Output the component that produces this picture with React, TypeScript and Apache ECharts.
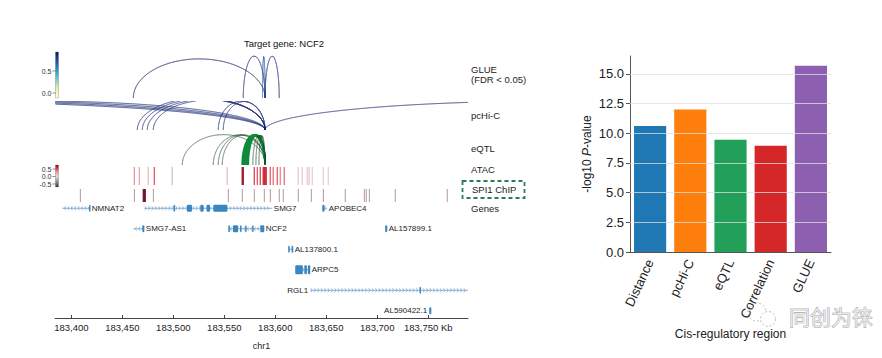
import React, { useEffect, useRef } from 'react';
import * as echarts from 'echarts';

// ---------------- Bar chart data ----------------
const categories = ['Distance', 'pcHi-C', 'eQTL', 'Correlation', 'GLUE'];
const pValues = [10.6, 12.0, 9.45, 8.95, 15.67];
const barColors = ['#1f77b4', '#ff7f0e', '#22a05a', '#d62728', '#8c5fb0'];
const yTickValues = [0, 2.5, 5, 7.5, 10, 12.5, 15];
const yGridValues = [2.5, 5, 7.5, 10, 12.5, 15];

// ---------------- Genome track data (Kb on chr1) ----------------
const X_MIN = 183384;
const X_MAX = 183789;
const kbTicks = [183400, 183450, 183500, 183550, 183600, 183650, 183700, 183750];

// [start, end, height, score]
const glueLinks = [
  [183460.8, 183590, 0.85, 0.9],
  [183568.6, 183590, 0.91, 0.86],
  [183587.5, 183590, 0.9, 0.68],
  [183590, 183603.9, 0.91, 0.88],
];
// [start, end, height]
const pchicLinks = [
  [182840, 183590, 1.0],
  [182938, 183590, 1.0],
  [183036, 183590, 1.0],
  [183134, 183590, 1.0],
  [183464.7, 183590, 1.1],
  [183469.6, 183590, 1.08],
  [183474.5, 183590, 1.05],
  [183480.4, 183590, 1.03],
  [183544.1, 183590, 1.0],
  [183549.0, 183590, 0.98],
  [183590, 184163.7, 1.0],
];
// [start, end, height, thick(1)/thin(0)]
const eqtlLinks = [
  [183508.8, 183590, 0.98, 0],
  [183539.2, 183590, 0.97, 0],
  [183544.1, 183590, 0.97, 0],
  [183548.0, 183590, 0.97, 0],
  [183567.6, 183590, 0.96, 1],
  [183568.5, 183590, 0.97, 1],
  [183569.5, 183590, 0.96, 1],
  [183570.5, 183590, 0.97, 1],
  [183571.5, 183590, 0.96, 1],
  [183572.5, 183590, 0.95, 1],
  [183573.5, 183590, 0.96, 1],
  [183578.0, 183590, 0.95, 0],
  [183581.0, 183590, 0.95, 0],
  [183584.0, 183590, 0.94, 0],
];
// [position, value]
const atacPeaks = [
  [183461.8, 0.3], [183466.7, 0.22], [183475.5, 0.14], [183481.4, 0.45], [183499.0, -0.1],
  [183552.9, 0.12], [183567.6, 0.75], [183568.6, 0.75], [183579.4, 0.5], [183582.4, 0.45],
  [183585.3, 0.5], [183588.2, 0.6], [183589.2, 0.66], [183590.2, 0.62], [183591.2, 0.55],
  [183595.1, 0.45], [183598.0, 0.4], [183602.0, 0.45], [183604.9, 0.35], [183608.8, 0.4],
  [183622.5, 0.07], [183626.5, 0.07], [183631.4, 0.09], [183633.3, 0.09], [183636.3, 0.07],
  [183647.1, 0.05], [183652.0, 0.05],
];
// [position, value]
const spi1Peaks = [
  [183408.8, 0.3], [183461.8, 0.3], [183470.6, 1.0], [183471.6, 1.0], [183472.5, 1.0],
  [183480.4, 0.3], [183553.9, 0.3], [183567.6, 0.35], [183579.4, 0.3], [183589.2, 0.35],
  [183595.1, 0.3], [183603.9, 0.3], [183607.8, 0.3], [183622.5, 0.25], [183635.3, 0.25],
  [183647.1, 0.25], [183668.6, 0.25], [183687.3, 0.25], [183689.2, 0.25], [183692.2, 0.25],
  [183717.6, 0.25], [183768.6, 0.25],
];

const geneNames = ['NMNAT2', 'SMG7', 'APOBEC4', 'SMG7-AS1', 'NCF2', 'AL157899.1', 'AL137800.1', 'ARPC5', 'RGL1', 'AL590422.1'];
const geneStarts = [183391.2, 183471.6, 183646.1, 183460.8, 183553.9, 183707.8, 183612.7, 183619.6, 183634.3, 183751.0];
const geneEnds = [183418.6, 183597.1, 183651.0, 183471.6, 183589.2, 183709.8, 183617.6, 183634.3, 183830.0, 183753.0];
const geneRows = [0, 0, 0, 1, 1, 1, 2, 3, 4, 5];
const geneStrands = [-1, 1, -1, -1, -1, 1, 1, 1, 1, 1];
const geneLabelLeft = [0, 0, 0, 0, 0, 0, 0, 0, 1, 1];
const geneExons = [
  [[183417.4, 183418.6]],
  [[183500.3, 183501.3], [183513.4, 183518.3], [183526.5, 183529.7], [183532.7, 183536.0], [183539.3, 183553.0]],
  [[183646.1, 183648.3]],
  [[183469.6, 183471.6]],
  [[183554.0, 183555.5], [183558.5, 183563.5], [183565.5, 183566.5], [183570.5, 183571.5], [183577.4, 183578.4], [183585.3, 183589.2]],
  [[183707.8, 183709.8]],
  [[183612.7, 183614.0], [183616.0, 183617.6]],
  [[183619.6, 183627.0], [183628.5, 183631.0], [183632.0, 183634.3]],
  [[183741.5, 183742.8]],
  [[183751.0, 183753.0]],
];

const glueCmap: [number, string][] = [
  [-0.1, '#ffffd9'], [0.05, '#edf8b1'], [0.18, '#c7e9b4'], [0.3, '#7fcdbb'], [0.42, '#41b6c4'],
  [0.55, '#1d91c0'], [0.68, '#225ea8'], [0.8, '#253494'], [0.93, '#081d58'],
];
const atacCmap: [number, string][] = [
  [-0.7, '#3a3a3a'], [-0.3, '#9a9a9a'], [0, '#e4dcdc'], [0.15, '#ebb9be'], [0.35, '#e5868d'],
  [0.55, '#e0303a'], [0.77, '#8e0c1e'],
];

const FONT = 'Liberation Sans, Arial, Helvetica, sans-serif';

function hexToRgb(h: string) {
  const n = parseInt(h.slice(1), 16);
  return [(n >> 16) & 255, (n >> 8) & 255, n & 255];
}
function cmap(stops: [number, string][], v: number) {
  if (v <= stops[0][0]) return stops[0][1];
  for (let i = 1; i < stops.length; i++) {
    if (v <= stops[i][0]) {
      const t = (v - stops[i - 1][0]) / (stops[i][0] - stops[i - 1][0]);
      const a = hexToRgb(stops[i - 1][1]);
      const b = hexToRgb(stops[i][1]);
      const c = a.map((x, k) => Math.round(x + (b[k] - x) * t));
      return `rgb(${c[0]},${c[1]},${c[2]})`;
    }
  }
  return stops[stops.length - 1][1];
}
function gradientStops(stops: [number, string][]) {
  const top = stops[stops.length - 1][0];
  const bot = stops[0][0];
  return stops
    .map(([v, c]) => ({ offset: (top - v) / (top - bot), color: c }))
    .sort((a, b) => a.offset - b.offset);
}

function arcRenderer(styleFn: (idx: number) => { stroke: string; lineWidth: number }) {
  return (params: any, api: any) => {
    const s = api.value(0);
    const e = api.value(1);
    const h = api.value(2);
    const c = (s + e) / 2;
    const a = Math.abs(e - s) / 2;
    const N = 1500;
    const runs: number[][][] = [];
    let cur: number[][] = [];
    for (let i = 0; i <= N; i++) {
      const t = (Math.PI * i) / N;
      const x = c + a * Math.cos(t);
      const y = h * Math.sin(t);
      if (x >= X_MIN && x <= X_MAX && y <= 1) {
        cur.push(api.coord([x, y]));
      } else {
        if (cur.length > 1) runs.push(cur);
        cur = [];
      }
    }
    if (cur.length > 1) runs.push(cur);
    const st = styleFn(params.dataIndex);
    return {
      type: 'group',
      children: runs.map((pts) => ({
        type: 'polyline',
        shape: { points: pts },
        style: { stroke: st.stroke, lineWidth: st.lineWidth, fill: 'none' },
      })),
    };
  };
}

function peakRenderer(colorFn: (v: number) => string, widthFn: (v: number) => number) {
  return (params: any, api: any) => {
    const x = api.value(0);
    const v = api.value(1);
    const pTop = api.coord([x, 1]);
    const pBot = api.coord([x, 0]);
    const w = widthFn(v);
    return {
      type: 'rect',
      shape: { x: pTop[0] - w / 2, y: pTop[1], width: w, height: pBot[1] - pTop[1] },
      style: { fill: colorFn(v) },
    };
  };
}

function geneRenderer(params: any, api: any) {
  const idx = params.dataIndex;
  const s = api.value(0);
  const e = api.value(1);
  const row = api.value(2);
  const strand = api.value(3);
  const p0 = api.coord([Math.max(s, X_MIN), row]);
  const p1 = api.coord([Math.min(e, X_MAX), row]);
  const y = p0[1];
  const children: any[] = [];
  const lineColor = '#6a9ec8';
  children.push({
    type: 'line',
    shape: { x1: p0[0], y1: y, x2: p1[0], y2: y },
    style: { stroke: lineColor, lineWidth: 0.8 },
  });
  for (let x = p0[0] + 2; x <= p1[0] - 1; x += 3.4) {
    const d = strand > 0 ? -1.4 : 1.4;
    children.push({
      type: 'polyline',
      shape: { points: [[x + d, y - 2], [x, y], [x + d, y + 2]] },
      style: { stroke: lineColor, lineWidth: 0.7, fill: 'none' },
    });
  }
  const thick = geneNames[idx] === 'ARPC5' ? 9 : 7;
  (geneExons[idx] || []).forEach((ex: number[]) => {
    const a = api.coord([Math.max(ex[0], X_MIN), row]);
    const b = api.coord([Math.min(ex[1], X_MAX), row]);
    const w = Math.max(b[0] - a[0], 1.4);
    children.push({
      type: 'rect',
      shape: { x: a[0], y: y - thick / 2, width: w, height: thick, r: 1 },
      style: { fill: '#3a86c0' },
    });
  });
  const left = geneLabelLeft[idx] === 1;
  children.push({
    type: 'text',
    x: left ? p0[0] - 2 : p1[0] + 1.5,
    y: y,
    style: {
      text: geneNames[idx],
      fontSize: 8,
      fontFamily: FONT,
      fill: '#222',
      align: left ? 'right' : 'left',
      verticalAlign: 'middle',
    },
  });
  return { type: 'group', children };
}

const genomeGrids = [
  { top: 52, height: 46 },
  { top: 101, height: 29 },
  { top: 134, height: 31 },
  { top: 167, height: 18 },
  { top: 189, height: 13 },
  { top: 198, height: 120 },
];

function buildOption() {
  const grid: any[] = [{ left: 630, top: 56, width: 201, height: 196 }];
  genomeGrids.forEach((g) => grid.push({ left: 55, width: 413, top: g.top, height: g.height }));

  const xAxis: any[] = [
    {
      type: 'category',
      gridIndex: 0,
      data: categories,
      axisLine: { lineStyle: { color: '#555', width: 1 } },
      axisTick: { show: false },
      axisLabel: { rotate: 65, fontSize: 13, color: '#222', fontFamily: FONT, margin: 8 },
      name: 'Cis-regulatory region',
      nameLocation: 'middle',
      nameGap: 65,
      nameTextStyle: { fontSize: 12, color: '#222', fontFamily: FONT },
    },
  ];
  const yAxis: any[] = [
    {
      type: 'value',
      gridIndex: 0,
      min: 0,
      max: 16.5,
      axisLine: { show: true, lineStyle: { color: '#555', width: 1 } },
      axisTick: { show: true, length: 4, customValues: yTickValues, lineStyle: { color: '#555' } },
      axisLabel: {
        customValues: yTickValues,
        formatter: (v: number) => v.toFixed(1),
        fontSize: 13,
        color: '#222',
        fontFamily: FONT,
        margin: 6,
      },
      splitLine: { show: false },
      name: '{n|-log10 }{i|P}{n|-value}',
      nameLocation: 'middle',
      nameGap: 37,
      nameRotate: 90,
      nameTextStyle: {
        rich: {
          n: { fontSize: 12, color: '#222', fontFamily: FONT },
          i: { fontSize: 12, color: '#222', fontFamily: FONT, fontStyle: 'italic' },
        },
      },
    },
  ];
  for (let i = 1; i <= 6; i++) {
    const isGenes = i === 6;
    xAxis.push(
      isGenes
        ? {
            type: 'value',
            gridIndex: i,
            min: X_MIN,
            max: X_MAX,
            position: 'bottom',
            axisLine: { show: true, onZero: false, lineStyle: { color: '#444', width: 1 } },
            axisTick: { show: true, inside: true, length: 3, customValues: kbTicks, lineStyle: { color: '#444' } },
            axisLabel: {
              show: true,
              customValues: kbTicks,
              formatter: (v: number) => v.toLocaleString('en-US') + (v === 183750 ? ' Kb' : ''),
              fontSize: 9.5,
              color: '#222',
              fontFamily: FONT,
              margin: 4,
            },
            splitLine: { show: false },
            name: 'chr1',
            nameLocation: 'middle',
            nameGap: 23,
            nameTextStyle: { fontSize: 9, color: '#222', fontFamily: FONT },
          }
        : { type: 'value', gridIndex: i, min: X_MIN, max: X_MAX, show: false }
    );
    yAxis.push(
      isGenes
        ? { type: 'value', gridIndex: i, min: -0.5, max: 5.35, inverse: true, show: false }
        : { type: 'value', gridIndex: i, min: 0, max: 1, show: false }
    );
  }

  const series: any[] = [
    {
      type: 'bar',
      xAxisIndex: 0,
      yAxisIndex: 0,
      barWidth: '80%',
      data: pValues.map((v, i) => ({ value: v, itemStyle: { color: barColors[i] } })),
      markLine: {
        silent: true,
        symbol: 'none',
        label: { show: false },
        lineStyle: { color: '#e2e2e2', width: 1, type: 'solid', opacity: 0.75 },
        data: yGridValues.map((v) => ({ yAxis: v })),
      },
    },
    {
      type: 'custom',
      xAxisIndex: 1,
      yAxisIndex: 1,
      clip: true,
      data: glueLinks,
      encode: { x: [0, 1], y: 2 },
      renderItem: arcRenderer((i) => ({ stroke: cmap(glueCmap, glueLinks[i][3]), lineWidth: 0.9 })),
    },
    {
      type: 'custom',
      xAxisIndex: 2,
      yAxisIndex: 2,
      clip: true,
      data: pchicLinks,
      encode: { x: [0, 1], y: 2 },
      renderItem: arcRenderer(() => ({ stroke: '#27357a', lineWidth: 0.9 })),
    },
    {
      type: 'custom',
      xAxisIndex: 3,
      yAxisIndex: 3,
      clip: true,
      data: eqtlLinks,
      encode: { x: [0, 1], y: 2 },
      renderItem: arcRenderer((i) =>
        eqtlLinks[i][3] === 1 ? { stroke: '#0f8a3a', lineWidth: 1.8 } : { stroke: '#3a6248', lineWidth: 0.8 }
      ),
    },
    {
      type: 'custom',
      xAxisIndex: 4,
      yAxisIndex: 4,
      data: atacPeaks,
      encode: { x: 0, y: 1 },
      renderItem: peakRenderer((v) => cmap(atacCmap, v), () => 1.3),
    },
    {
      type: 'custom',
      xAxisIndex: 5,
      yAxisIndex: 5,
      data: spi1Peaks,
      encode: { x: 0, y: 1 },
      renderItem: peakRenderer(
        (v) => (v >= 0.9 ? '#6e1426' : '#a07c82'),
        (v) => (v >= 0.9 ? 1.3 : 0.8)
      ),
    },
    {
      type: 'custom',
      xAxisIndex: 6,
      yAxisIndex: 6,
      data: geneNames.map((_, i) => [geneStarts[i], geneEnds[i], geneRows[i], geneStrands[i]]),
      encode: { x: [0, 1], y: 2 },
      renderItem: geneRenderer,
    },
  ];

  const txt = (text: string, x: number, y: number, size: number, align = 'left', extra: any = {}) => ({
    type: 'text',
    x,
    y,
    style: { text, fontSize: size, fontFamily: FONT, fill: '#222', align, verticalAlign: 'middle', ...extra },
  });

  const graphic: any[] = [
    txt('Target gene: NCF2', 284, 43, 9.5, 'center', { fill: '#111' }),
    txt('GLUE', 471, 69, 9.5),
    txt('(FDR < 0.05)', 471, 79, 9.5),
    txt('pcHi-C', 471, 115, 9.5),
    txt('eQTL', 471, 148, 9.5),
    txt('ATAC', 471, 169, 9.5),
    txt('SPI1 ChIP', 472, 189.5, 9.5),
    txt('Genes', 471, 208, 9.5),
    {
      type: 'rect',
      shape: { x: 462.5, y: 181, width: 62, height: 17 },
      style: { fill: 'none', stroke: '#2b7a5e', lineWidth: 1.8, lineDash: [4, 3] },
    },
    // GLUE colorbar
    {
      type: 'rect',
      shape: { x: 55.5, y: 52, width: 3, height: 46 },
      style: { fill: new echarts.graphic.LinearGradient(0, 0, 0, 1, gradientStops(glueCmap)), stroke: '#555', lineWidth: 0.3 },
    },
    { type: 'line', shape: { x1: 52.5, y1: 71, x2: 55.5, y2: 71 }, style: { stroke: '#444', lineWidth: 0.6 } },
    { type: 'line', shape: { x1: 52.5, y1: 93, x2: 55.5, y2: 93 }, style: { stroke: '#444', lineWidth: 0.6 } },
    txt('0.5', 51.5, 71, 7, 'right', { fill: '#333' }),
    txt('0.0', 51.5, 93, 7, 'right', { fill: '#333' }),
    // ATAC colorbar
    {
      type: 'rect',
      shape: { x: 55.5, y: 165, width: 3, height: 22 },
      style: { fill: new echarts.graphic.LinearGradient(0, 0, 0, 1, gradientStops(atacCmap)), stroke: '#555', lineWidth: 0.3 },
    },
    { type: 'line', shape: { x1: 52.5, y1: 169, x2: 55.5, y2: 169 }, style: { stroke: '#444', lineWidth: 0.6 } },
    { type: 'line', shape: { x1: 52.5, y1: 176.5, x2: 55.5, y2: 176.5 }, style: { stroke: '#444', lineWidth: 0.6 } },
    { type: 'line', shape: { x1: 52.5, y1: 184, x2: 55.5, y2: 184 }, style: { stroke: '#444', lineWidth: 0.6 } },
    txt('0.5', 51.5, 169, 7, 'right', { fill: '#333' }),
    txt('0.0', 51.5, 176.5, 7, 'right', { fill: '#333' }),
    txt('-0.5', 51.5, 184, 7, 'right', { fill: '#333' }),
    // watermark
    { type: 'circle', shape: { cx: 757, cy: 312, r: 9 }, style: { fill: 'none', stroke: '#bdbdbd', lineWidth: 1, lineDash: [2, 2] } },
    { type: 'circle', shape: { cx: 768, cy: 319, r: 7.5 }, style: { fill: '#fff', stroke: '#bdbdbd', lineWidth: 1, lineDash: [2, 2] } },
    {
      type: 'text',
      x: 789,
      y: 316,
      style: {
        text: '同创为徕',
        fontSize: 21,
        fontFamily: 'Noto Sans CJK SC',
        fill: '#e6e6e6',
        stroke: '#8f8f8f',
        lineWidth: 0.7,
        align: 'left',
        verticalAlign: 'middle',
      },
    },
  ];

  return { animation: false, backgroundColor: '#ffffff', grid, xAxis, yAxis, series, graphic };
}

export default function App() {
  const ref = useRef<HTMLDivElement>(null);
  useEffect(() => {
    if (!ref.current) return;
    const chart = echarts.init(ref.current, null, { renderer: 'svg' });
    chart.setOption(buildOption() as any);
    return () => chart.dispose();
  }, []);
  return <div ref={ref} style={{ position: 'absolute', left: 0, top: 0, width: 882, height: 358 }} />;
}
